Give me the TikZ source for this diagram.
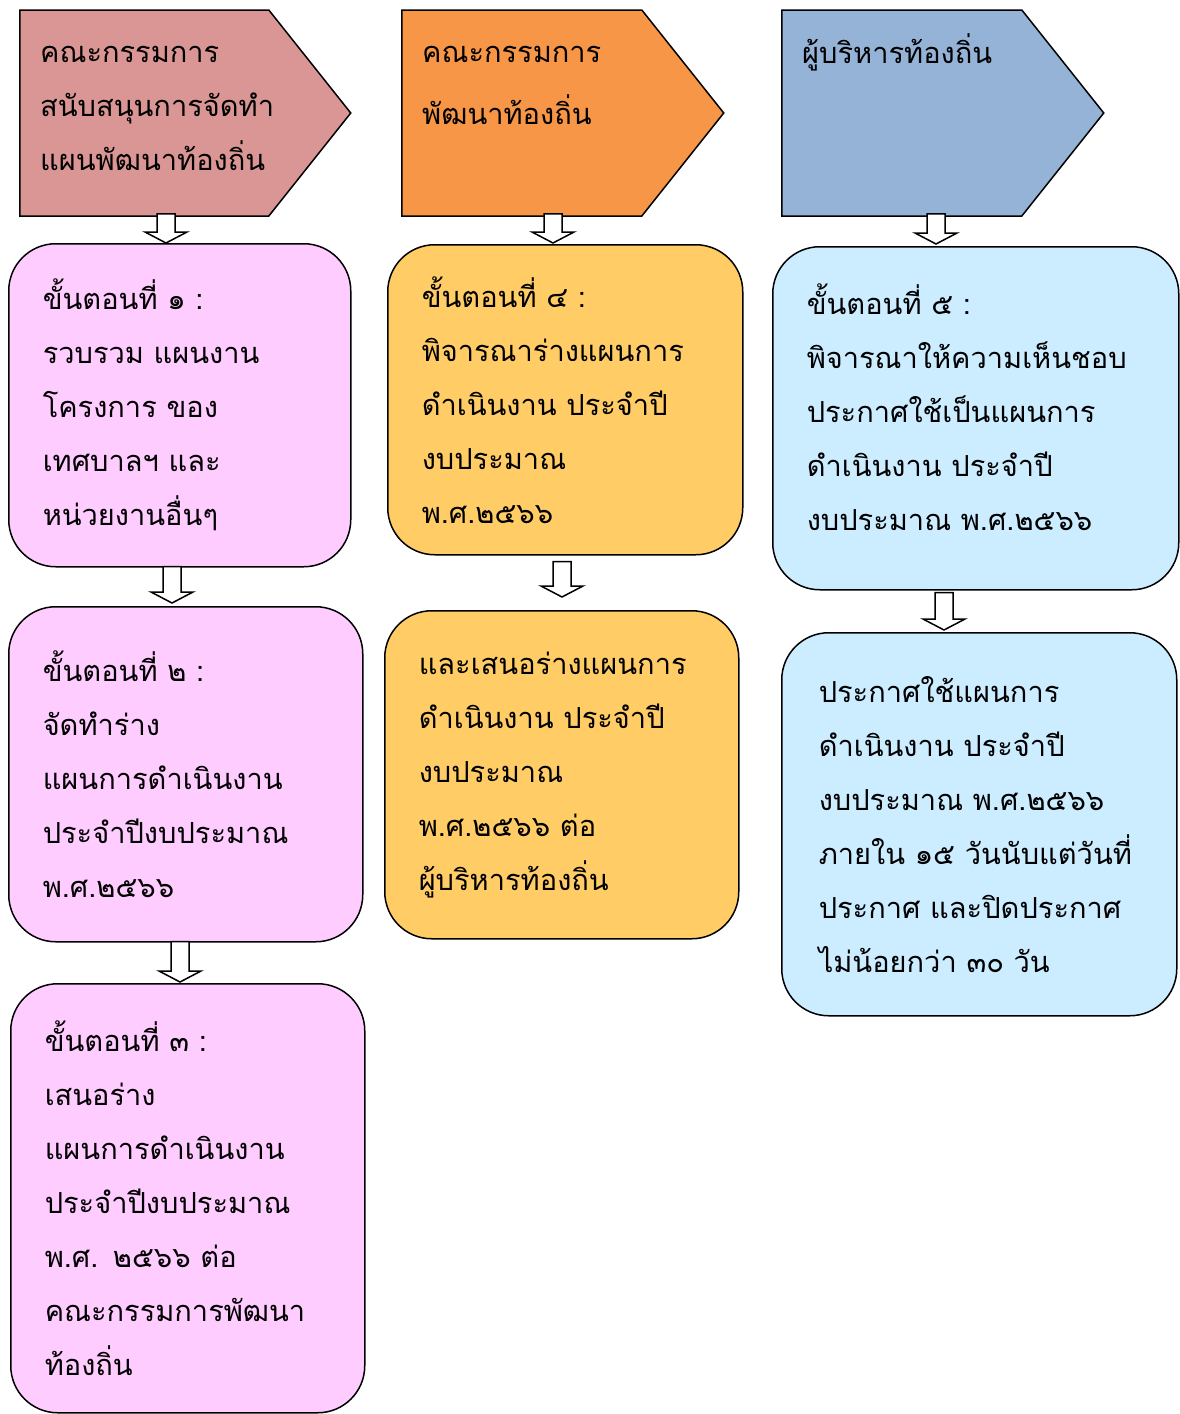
\documentclass[tikz,border=0pt]{standalone}
\usepackage{fontspec}
\newfontfamily\thaifont[Script=Thai]{Loma}
\usetikzlibrary{calc, positioning, shapes.symbols}
\definecolor{headred}{HTML}{D99694}
\definecolor{headorange}{HTML}{F79646}
\definecolor{headblue}{HTML}{95B3D7}
\definecolor{steppink}{HTML}{FFCCFF}
\definecolor{stepyellow}{HTML}{FFCC66}
\definecolor{stepblue}{HTML}{CCECFF}
\tikzset{
 head/.style = {
    shape=signal, signal to=east, signal from=nowhere,
    signal pointer angle=103, draw, line width=1.5pt,
    minimum width=322pt, minimum height=206pt,
    inner sep=0pt, anchor=west},
 head label/.style = {
    anchor=north west, align=left, inner sep=0pt,
    font=\thaifont\fontsize{29pt}{54pt}\selectfont,
    xshift=21pt, yshift=-37pt},
 stepbox/.style = {
    draw, line width=1.5pt, rounded corners=47pt,
    inner xsep=34pt, inner ysep=0pt,
    align=left, anchor=north west,
    font=\thaifont\fontsize{29pt}{54pt}\selectfont},
 hollow arrow/.style = {
    draw, fill=white, line width=1.5pt},
}
% block arrow: from, to, x, shaft start below from, tip above to
\newcommand{\flowarrow}[5]{%
  \draw[hollow arrow] let \p1 = (#1.south), \p2 = (#2.north),
      \n1 = {\y1-(#4pt)}, \n2 = {\y2+(#5pt)}, \n3 = {\y2+(#5pt)+11pt} in
    ({#3pt-9pt}, \n1) -- ({#3pt-9pt}, \n3)
    -- ({#3pt-21pt}, \n3) -- (#3pt, \n2)
    -- ({#3pt+21pt}, \n3) -- ({#3pt+9pt}, \n3)
    -- ({#3pt+9pt}, \n1) -- cycle;
}

\begin{document}
\begin{tikzpicture}[x=1pt, y=-1pt]
\useasboundingbox (0,0) rectangle (1179,1414);

% heads
\node [head, minimum width=331pt, fill=headred, label={[head label]north west:{คณะกรรมการ\\สนับสนุนการจัดทำ\\แผนพัฒนาท้องถิ่น}}] (board) at (19,113) {};
\node [head, fill=headorange, label={[head label]north west:{คณะกรรมการ\\[8pt]พัฒนาท้องถิ่น}}] (council) at (401,113) {};
\node [head, fill=headblue, label={[head label, yshift=13pt]north west:{ผู้บริหารท้องถิ่น}}] (mayor) at (781,113) {};

% steps
\node [stepbox, fill=steppink, text width=274pt, minimum height=323pt] (step1) at (8,243)
  {ขั้นตอนที่ ๑ :\\รวบรวม แผนงาน\\โครงการ ของ\\เทศบาลฯ และ\\หน่วยงานอื่นๆ};
\node [stepbox, fill=steppink, text width=286pt, minimum height=335pt] (step2) at (8,606)
  {ขั้นตอนที่ ๒ :\\จัดทำร่าง\\แผนการดำเนินงาน\\ประจำปีงบประมาณ\\พ.ศ.๒๕๖๖};
\node [stepbox, fill=steppink, text width=286pt, minimum height=429pt] (step3) at (10,983)
  {ขั้นตอนที่ ๓ :\\เสนอร่าง\\แผนการดำเนินงาน\\ประจำปีงบประมาณ\\พ.ศ. ๒๕๖๖ ต่อ\\คณะกรรมการพัฒนา\\ท้องถิ่น};
\node [stepbox, fill=stepyellow, text width=287pt, minimum height=310pt] (step4) at (387,244)
  {ขั้นตอนที่ ๔ :\\พิจารณาร่างแผนการ\\ดำเนินงาน ประจำปี\\งบประมาณ\\พ.ศ.๒๕๖๖};
\node [stepbox, fill=stepyellow, text width=286pt, minimum height=328pt] (submit) at (384,610)
  {และเสนอร่างแผนการ\\ดำเนินงาน ประจำปี\\งบประมาณ\\พ.ศ.๒๕๖๖ ต่อ\\ผู้บริหารท้องถิ่น};
\node [stepbox, fill=stepblue, text width=338pt, minimum height=343pt] (step5) at (772,246)
  {ขั้นตอนที่ ๕ :\\พิจารณาให้ความเห็นชอบ\\ประกาศใช้เป็นแผนการ\\ดำเนินงาน ประจำปี\\งบประมาณ พ.ศ.๒๕๖๖\\[-32pt]\mbox{}};
\node [stepbox, fill=stepblue, inner xsep=37pt, text width=321pt, minimum height=383pt] (announce) at (781,632)
  {ประกาศใช้แผนการ\\ดำเนินงาน ประจำปี\\งบประมาณ พ.ศ.๒๕๖๖\\ภายใน ๑๕ วันนับแต่วันที่\\ประกาศ และปิดประกาศ\\ไม่น้อยกว่า ๓๐ วัน};

% arrows
\flowarrow{board}{step1}{166}{-3}{0}
\flowarrow{step1}{step2}{172}{-1}{3}
\flowarrow{step2}{step3}{180}{-1}{1}
\flowarrow{council}{step4}{553}{-3}{1}
\flowarrow{step4}{submit}{562}{6}{13}
\flowarrow{mayor}{step5}{936}{-3}{2}
\flowarrow{step5}{announce}{944}{2}{2}
\end{tikzpicture}
\end{document}
